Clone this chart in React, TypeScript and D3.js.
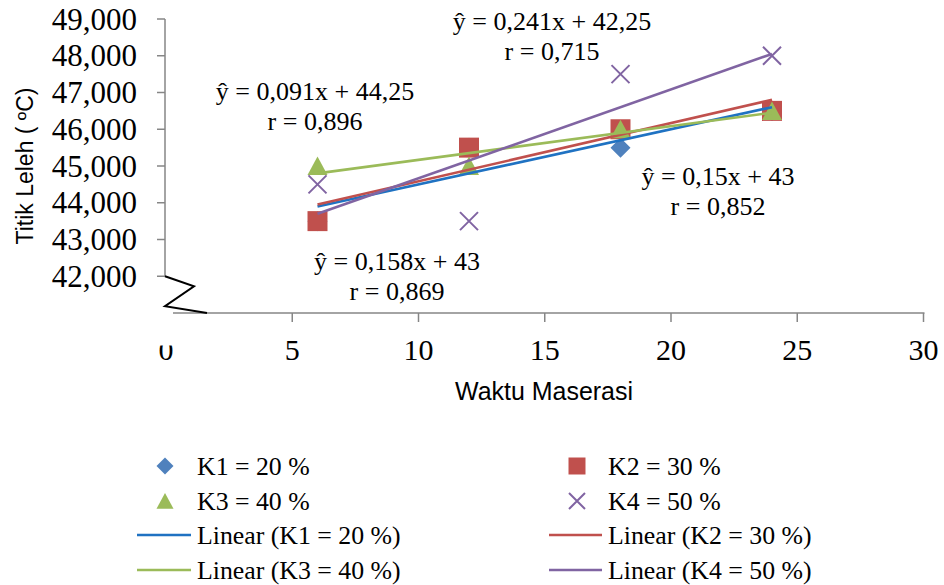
import React from 'react';
import * as d3 from 'd3';

// Maceration time (hours) and melting point per concentration
const waktu = [6, 12, 18, 24];
const k1Values = [43.5, 45.5, 45.5, 46.5];
const k2Values = [43.5, 45.5, 46.0, 46.5];
const k3Values = [45.0, 45.0, 46.0, 46.5];
const k4Values = [44.5, 43.5, 47.5, 48.0];

const seriesNames = ['K1 = 20 %', 'K2 = 30 %', 'K3 = 40 %', 'K4 = 50 %'];
const xTickValues = [0, 5, 10, 15, 20, 25, 30];
const yTickValues = [42, 43, 44, 45, 46, 47, 48, 49];

const equationK1 = ['ŷ = 0,15x + 43', 'r = 0,852'];
const equationK2 = ['ŷ = 0,158x + 43', 'r = 0,869'];
const equationK3 = ['ŷ = 0,091x + 44,25', 'r = 0,896'];
const equationK4 = ['ŷ = 0,241x + 42,25', 'r = 0,715'];

const W = 944;
const H = 585;
const SERIF = '"Liberation Serif", "Times New Roman", serif';
const SANS = '"Liberation Sans", Arial, sans-serif';

const markerColors = ['#4F81BD', '#C0504D', '#9BBB59', '#8064A2'];
const trendColors = ['#1F72C2', '#C0504D', '#9BBB59', '#8064A2'];
const markerKinds = ['diamond', 'square', 'triangle', 'cross'];

const x = d3.scaleLinear().domain([0, 30]).range([166, 923.5]);
const y = d3.scaleLinear().domain([41, 49]).range([313, 19]);

const valueFmt = d3
  .formatLocale({ decimal: ',', thousands: '.', grouping: [3], currency: ['', ''] })
  .format('.3f');

const seriesValues = [k1Values, k2Values, k3Values, k4Values];
const series = seriesNames.map((name, i) => ({
  name,
  values: seriesValues[i],
  points: waktu.map((t, j) => ({ t, v: seriesValues[i][j] })),
}));

// least-squares fit over the observed points
function fit(xs: number[], ys: number[]) {
  const mx = d3.mean(xs) as number;
  const my = d3.mean(ys) as number;
  const sxy = d3.sum(xs, (v, i) => (v - mx) * (ys[i] - my));
  const sxx = d3.sum(xs, (v) => (v - mx) * (v - mx));
  const slope = sxy / sxx;
  return { slope, intercept: my - slope * mx };
}

function markerPath(kind: string, r: number) {
  const p = d3.path();
  if (kind === 'diamond') {
    p.moveTo(0, -r);
    p.lineTo(r, 0);
    p.lineTo(0, r);
    p.lineTo(-r, 0);
    p.closePath();
  } else if (kind === 'square') {
    p.rect(-r, -r, 2 * r, 2 * r);
  } else if (kind === 'triangle') {
    p.moveTo(0, -r * 0.95);
    p.lineTo(r, r * 0.9);
    p.lineTo(-r, r * 0.9);
    p.closePath();
  } else {
    p.moveTo(-r, -r);
    p.lineTo(r, r);
    p.moveTo(r, -r);
    p.lineTo(-r, r);
  }
  return p.toString();
}

function Marker({ kind, color, cx, cy, r }: { kind: string; color: string; cx: number; cy: number; r: number }) {
  const d = markerPath(kind, r);
  if (kind === 'cross') {
    return <path d={d} transform={`translate(${cx},${cy})`} fill="none" stroke={color} strokeWidth={2} />;
  }
  return <path d={d} transform={`translate(${cx},${cy})`} fill={color} />;
}

const equationLayout = [
  { lines: equationK3, cx: 315, by: 100 },
  { lines: equationK4, cx: 552, by: 30 },
  { lines: equationK1, cx: 718, by: 185 },
  { lines: equationK2, cx: 397, by: 270 },
];

export default function App() {
  const trendLine = d3
    .line<{ t: number; v: number }>()
    .x((d) => x(d.t))
    .y((d) => y(d.v));

  const trends = series.map((s) => {
    const f = fit(waktu, s.values);
    const ext = d3.extent(waktu) as [number, number];
    return ext.map((t) => ({ t, v: f.intercept + f.slope * t }));
  });

  const axisColor = '#868686';
  const yTop = y(yTickValues[yTickValues.length - 1]);
  const yBottom = y(yTickValues[0]);
  const axisX = x(0) - 1;
  const baseY = y(41);

  // axis break zigzag between the value axis and the category axis
  const breakPath = d3.path();
  breakPath.moveTo(axisX, yBottom);
  breakPath.lineTo(axisX + 29, yBottom + 10);
  breakPath.lineTo(axisX, yBottom + 30);
  breakPath.lineTo(axisX + 42, baseY);

  const legendRows = [466, 501, 535, 570];
  const legendCols = [
    { mx: 165, lx1: 137, lx2: 191, tx: 197 },
    { mx: 577, lx1: 549, lx2: 602, tx: 608 },
  ];

  return (
    <svg
      width={W}
      height={H}
      style={{ position: 'absolute', left: 0, top: 0, background: '#fff' }}
    >
      <rect width={W} height={H} fill="#fff" />

      {/* value axis */}
      <line x1={axisX} x2={axisX} y1={yTop} y2={yBottom} stroke={axisColor} strokeWidth={1.5} />
      {yTickValues.map((v) => (
        <g key={v}>
          <line x1={axisX - 8} x2={axisX} y1={y(v)} y2={y(v)} stroke={axisColor} strokeWidth={1.5} />
          <text
            x={137}
            y={y(v)}
            dy="0.34em"
            textAnchor="end"
            fontFamily={SERIF}
            fontSize={31}
            fill="#000"
          >
            {valueFmt(v)}
          </text>
        </g>
      ))}

      {/* category axis */}
      <line x1={axisX + 8} x2={x(30) + 1} y1={baseY} y2={baseY} stroke={axisColor} strokeWidth={1.5} />
      {xTickValues.map((v) => (
        <g key={v}>
          {v > 0 && (
            <line x1={x(v)} x2={x(v)} y1={baseY} y2={baseY + 9} stroke={axisColor} strokeWidth={1.5} />
          )}
          <text x={x(v)} y={360} textAnchor="middle" fontFamily={SERIF} fontSize={30} fill="#000">
            {v}
          </text>
        </g>
      ))}
      <rect x={x(0) - 14} y={330} width={28} height={15.5} fill="#fff" />

      <path d={breakPath.toString()} fill="none" stroke="#000" strokeWidth={2} />

      {/* axis titles */}
      <text
        transform="translate(33,166) rotate(-90)"
        textAnchor="middle"
        fontFamily={SANS}
        fontSize={23}
        fill="#000"
      >
        Titik Leleh ( ºC)
      </text>
      <text
        x={544}
        y={400}
        textAnchor="middle"
        fontFamily={SANS}
        fontSize={25}
        textLength={178}
        lengthAdjust="spacingAndGlyphs"
        fill="#000"
      >
        Waktu Maserasi
      </text>

      {/* observed points */}
      {series.map((s, i) => (
        <g key={s.name}>
          {s.points.map((p) => (
            <Marker
              key={p.t}
              kind={markerKinds[i]}
              color={markerColors[i]}
              cx={x(p.t)}
              cy={y(p.v)}
              r={i === 3 ? 9 : 10}
            />
          ))}
        </g>
      ))}

      {/* fitted lines */}
      {trends.map((pts, i) => (
        <path key={i} d={trendLine(pts) as string} fill="none" stroke={trendColors[i]} strokeWidth={2.6} />
      ))}

      {/* regression equations */}
      {equationLayout.map((e, i) => (
        <g key={i} fontFamily={SERIF} fontSize={26} fill="#000" textAnchor="middle">
          <text x={e.cx} y={e.by}>
            {e.lines[0]}
          </text>
          <text x={e.cx} y={e.by + 30}>
            {e.lines[1]}
          </text>
        </g>
      ))}

      {/* legend */}
      {series.map((s, i) => {
        const col = legendCols[i % 2];
        const row = legendRows[Math.floor(i / 2)];
        return (
          <g key={`m${i}`}>
            <Marker kind={markerKinds[i]} color={markerColors[i]} cx={col.mx} cy={row} r={i === 3 ? 8 : 8.5} />
            <text x={col.tx} y={row + 8.5} fontFamily={SERIF} fontSize={25.8} fill="#000">
              {s.name}
            </text>
          </g>
        );
      })}
      {series.map((s, i) => {
        const col = legendCols[i % 2];
        const row = legendRows[2 + Math.floor(i / 2)];
        return (
          <g key={`l${i}`}>
            <line x1={col.lx1} x2={col.lx2} y1={row} y2={row} stroke={trendColors[i]} strokeWidth={2.6} />
            <text x={col.tx} y={row + 8.5} fontFamily={SERIF} fontSize={25.8} fill="#000">
              {`Linear (${s.name})`}
            </text>
          </g>
        );
      })}
    </svg>
  );
}
